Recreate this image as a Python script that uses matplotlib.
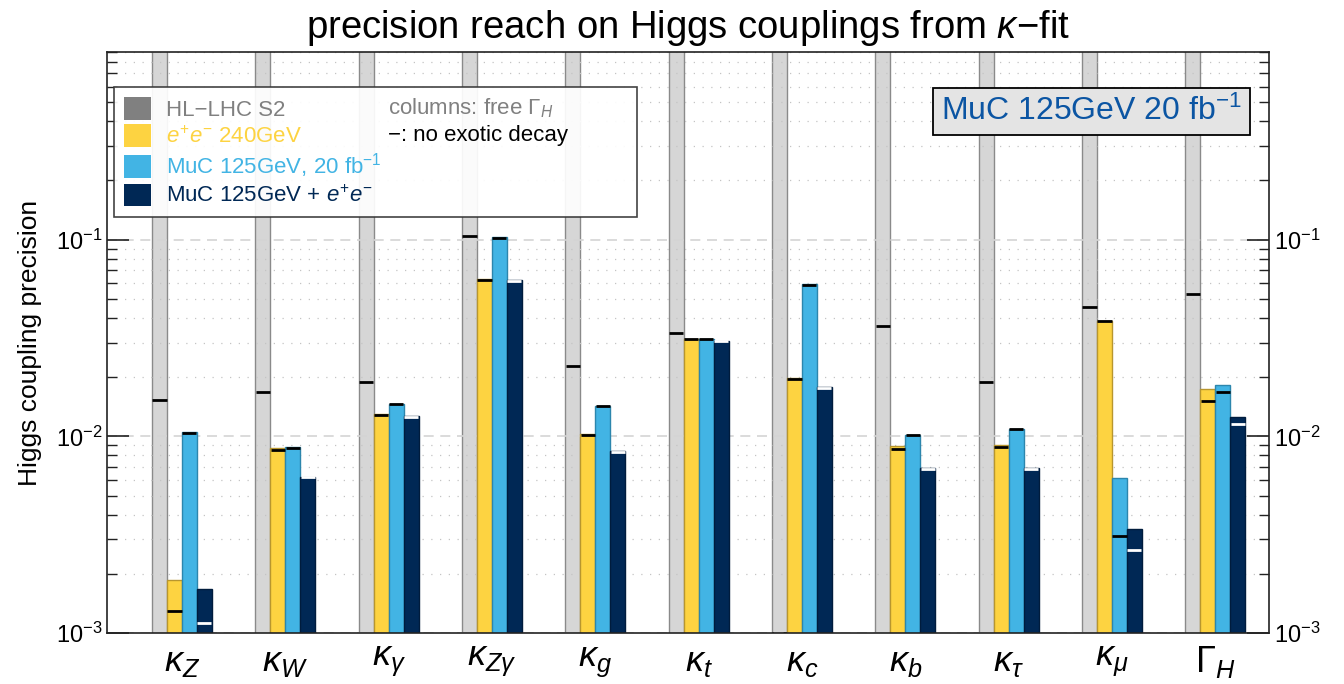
import numpy as np
import matplotlib
matplotlib.use("Agg")
import matplotlib.pyplot as plt
from matplotlib.patches import Patch
from matplotlib.ticker import LogLocator, NullFormatter

plt.rcParams['font.family'] = ['Liberation Sans', 'DejaVu Sans']
plt.rcParams['mathtext.fontset'] = 'custom'
plt.rcParams['mathtext.rm'] = 'Liberation Sans'
plt.rcParams['mathtext.it'] = 'Liberation Sans:italic'
plt.rcParams['mathtext.bf'] = 'Liberation Sans:bold'

# couplings
labels = [r'$\kappa_Z$', r'$\kappa_W$', r'$\kappa_\gamma$', r'$\kappa_{Z\gamma}$', r'$\kappa_g$',
          r'$\kappa_t$', r'$\kappa_c$', r'$\kappa_b$', r'$\kappa_\tau$', r'$\kappa_\mu$', r'$\Gamma_H$']

# columns: free Gamma_H fit, ticks: no exotic decay
hl_free = [np.inf, np.inf, np.inf, np.inf, np.inf, np.inf, np.inf, np.inf, np.inf, np.inf, np.inf]
hl_noexotic = [0.0153, 0.0169, 0.019, 0.1047, 0.0227, 0.0334, 0.001, 0.0363, 0.0188, 0.0457, 0.0527]
ee_free = [0.00187, 0.00873, 0.0130, 0.0629, 0.0103, 0.0312, 0.0198, 0.00893, 0.00908, 0.0388, 0.01746]
ee_noexotic = [0.0013, 0.0085, 0.0129, 0.0625, 0.0101, 0.0311, 0.0196, 0.00864, 0.0088, 0.0387, 0.0152]
muc_free = [0.0105, 0.0088, 0.01465, 0.1035, 0.0143, 0.0314, 0.0596, 0.0102, 0.01094, 0.00616, 0.01828]
muc_noexotic = [0.0104, 0.00875, 0.0146, 0.1025, 0.01425, 0.0313, 0.0590, 0.0101, 0.0109, 0.00313, 0.0169]
comb_free = [0.00167, 0.0062, 0.01265, 0.062, 0.0084, 0.0307, 0.0178, 0.00693, 0.0069, 0.00336, 0.01253]
comb_noexotic = [0.00113, 0.0062, 0.0125, 0.0618, 0.0083, 0.0306, 0.0177, 0.0068, 0.0068, 0.00264, 0.0115]

GREY = '#d6d6d6'
YELLOW = '#fdd341'
BLUE = '#42b4e4'
NAVY = '#002855'

fig = plt.figure(figsize=(13.44, 6.84), dpi=100)
ax = fig.add_axes([107/1344, 1 - 633/684, (1269 - 107)/1344, (633 - 52)/684])

ymin, ymax = 1e-3, 0.9
ax.set_yscale('log')
ax.set_ylim(ymin, ymax)
x = np.arange(len(labels))
w = 0.145
ax.set_xlim(-0.725, len(labels) - 1 + 0.52)

series = [
    (hl_free, hl_noexotic, GREY, '#8a8a8a', 'black', 1),
    (ee_free, ee_noexotic, YELLOW, '#b8962e', 'black', 2),
    (muc_free, muc_noexotic, BLUE, '#2c86ad', 'black', 2),
    (comb_free, comb_noexotic, NAVY, '#001c3d', 'white', 2),
]
for i, (free, noex, fc, ec, tc, z) in enumerate(series):
    xs = x + (i - 1.5) * w
    h = np.minimum(np.array(free, dtype=float), ymax * 10)
    ax.bar(xs, h - 1e-5, bottom=1e-5, width=w, color=fc, edgecolor=ec,
           linewidth=1.0, zorder=z)
    ax.hlines(noex, xs - w / 2 + 0.004, xs + w / 2 - 0.004, colors=tc,
              linewidth=2.0, zorder=z + 0.5)

# grid
ax.set_axisbelow('line')
ax.yaxis.set_major_locator(LogLocator(base=10, numticks=10))
ax.yaxis.set_minor_locator(LogLocator(base=10, subs=np.arange(2, 10), numticks=20))
ax.yaxis.set_minor_formatter(NullFormatter())
ax.grid(True, which='major', axis='y', color='#d4d4d4', linestyle=(0, (6, 4)), linewidth=1.2)
ax.grid(True, which='minor', axis='y', color='#c4c4c4', linestyle=(0, (1, 6)), linewidth=0.9)

ax.set_xticks(x)
ax.set_xticklabels(labels, fontsize=26)
ax.tick_params(axis='x', length=0, pad=8)
ax.tick_params(axis='y', which='both', direction='in', left=True, right=True,
               labelleft=True, labelright=True, labelsize=17, width=1.2, color='#222222')
ax.tick_params(axis='y', which='major', length=16)
ax.tick_params(axis='y', which='minor', length=7, width=1.0)
for s in ax.spines.values():
    s.set_linewidth(1.2)
    s.set_color('#222222')

ax.set_ylabel('Higgs coupling precision', fontsize=19, labelpad=10)
ax.set_title(r'precision reach on Higgs couplings from $\kappa$$-$fit', fontsize=27.5, pad=10)

handles = [Patch(facecolor='#808080', edgecolor='none'),
           Patch(facecolor=YELLOW, edgecolor='none'),
           Patch(facecolor=BLUE, edgecolor='none'),
           Patch(facecolor=NAVY, edgecolor='none')]
names = ['HL\u2212LHC S2', r'$e^{+}e^{-}$ 240GeV', r'MuC 125GeV, 20 fb$^{-1}$',
         r'MuC 125GeV + $e^{+}e^{-}$']
leg = ax.legend(handles, names, loc='upper left', bbox_to_anchor=(0.006, 0.94, 0.45, 0.0),
                mode='expand', borderaxespad=0, fontsize=16, handlelength=1.2,
                handleheight=1.2, labelspacing=0.15, handletextpad=0.7, borderpad=0.45,
                fancybox=False, framealpha=0.92, edgecolor='#333333',
                labelcolor=['#808080', YELLOW, BLUE, NAVY])
leg.get_frame().set_linewidth(1.2)
leg.set_zorder(5)
ax.text(0.242, 0.903, r'columns: free $\Gamma_H$', transform=ax.transAxes, fontsize=16,
        color='#808080', va='center', ha='left', zorder=6)
ax.text(0.242, 0.856, '\u2212: no exotic decay', transform=ax.transAxes, fontsize=16,
        color='black', va='center', ha='left', zorder=6)

ax.text(0.847, 0.898, r'MuC 125GeV 20 fb$^{-1}$', transform=ax.transAxes, fontsize=23,
        color='#0b55a3', ha='center', va='center', zorder=6,
        bbox=dict(boxstyle='square,pad=0.25', facecolor='#e4e4e4', edgecolor='black', linewidth=1.3))

fig.savefig('out.png', dpi=100)
